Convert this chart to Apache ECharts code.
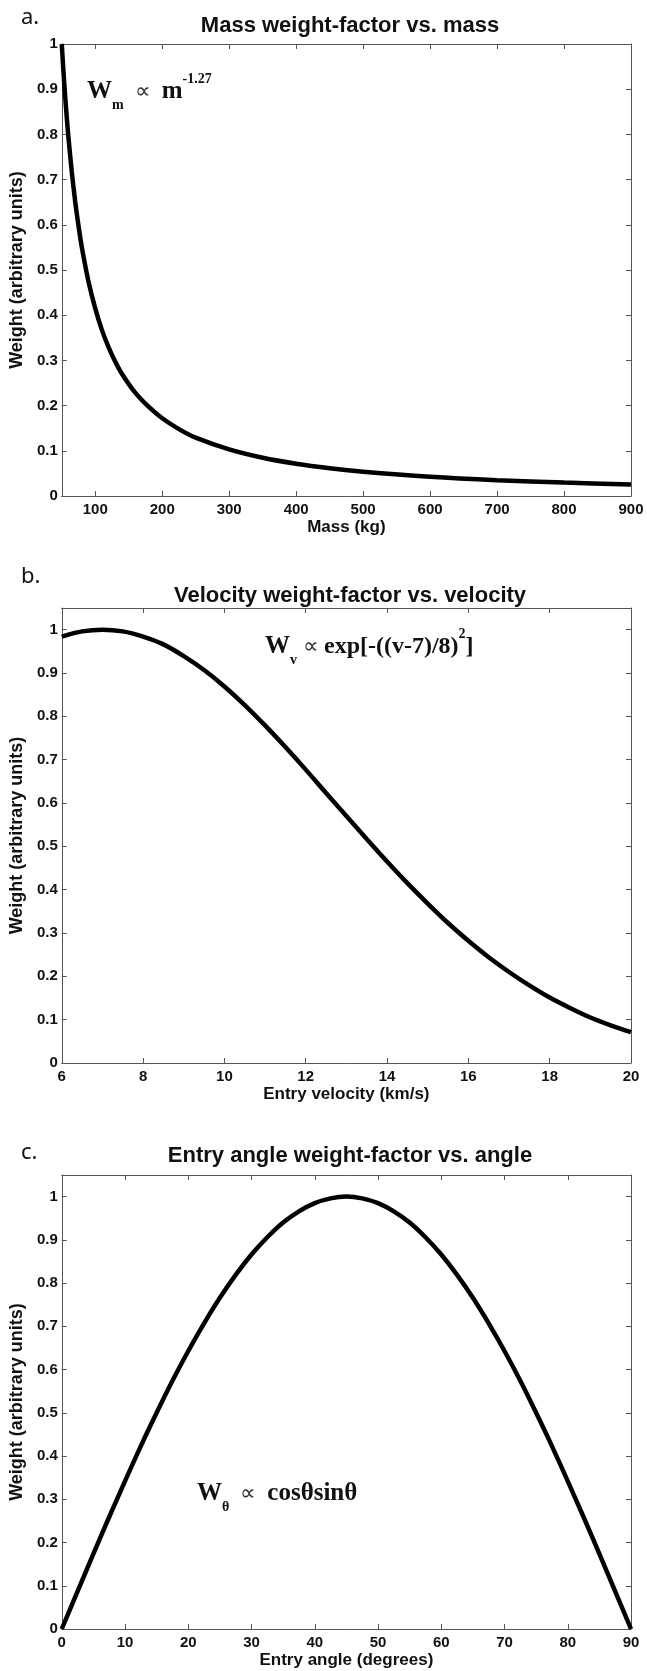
<!DOCTYPE html>
<html>
<head>
<meta charset="utf-8">
<script src="https://cdn.jsdelivr.net/npm/echarts@6/dist/echarts.min.js"></script>
<style>
  html, body { margin: 0; padding: 0; background: #fff; }
  #main { width: 647px; height: 1671px; }
</style>
</head>
<body>
<div id="main"></div>
<script>
// a. mass weight factor
var massKg = [50, 52.5, 55, 57.5, 60, 65, 70, 75, 80, 90, 100, 110, 120, 130, 140, 160, 180, 200, 225, 250, 300, 350, 400, 450, 500, 600, 700, 800, 900]
var massWeight = [1, 0.94, 0.886, 0.837, 0.793, 0.717, 0.652, 0.598, 0.55, 0.474, 0.415, 0.367, 0.329, 0.297, 0.27, 0.228, 0.197, 0.172, 0.148, 0.129, 0.103, 0.0845, 0.0713, 0.0614, 0.0537, 0.0426, 0.035, 0.0296, 0.0255]
var massTicks = [100, 200, 300, 400, 500, 600, 700, 800, 900]

// b. velocity weight factor
var velocity = [6, 6.5, 7, 7.5, 8, 8.5, 9, 9.5, 10, 10.5, 11, 11.5, 12, 12.5, 13, 13.5, 14, 14.5, 15, 15.5, 16, 16.5, 17, 17.5, 18, 18.5, 19, 19.5, 20]
var velocityWeight = [0.984, 0.996, 1, 0.996, 0.984, 0.966, 0.939, 0.907, 0.869, 0.826, 0.779, 0.729, 0.677, 0.623, 0.57, 0.517, 0.465, 0.415, 0.368, 0.323, 0.282, 0.244, 0.21, 0.179, 0.151, 0.127, 0.105, 0.087, 0.071]
var velocityTicks = [6, 8, 10, 12, 14, 16, 18, 20]

// c. entry angle weight factor
var angleDeg = [0, 2.5, 5, 7.5, 10, 12.5, 15, 17.5, 20, 22.5, 25, 27.5, 30, 32.5, 35, 37.5, 40, 42.5, 45,
  47.5, 50, 52.5, 55, 57.5, 60, 62.5, 65, 67.5, 70, 72.5, 75, 77.5, 80, 82.5, 85, 87.5, 90]
var angleWeight = [0, 0.087, 0.174, 0.259, 0.342, 0.423, 0.5, 0.574, 0.643, 0.707, 0.766, 0.819, 0.866, 0.906, 0.94, 0.966, 0.985, 0.996, 1,
  0.996, 0.985, 0.966, 0.94, 0.906, 0.866, 0.819, 0.766, 0.707, 0.643, 0.574, 0.5, 0.423, 0.342, 0.259, 0.174, 0.087, 0]
var angleTicks = [0, 10, 20, 30, 40, 50, 60, 70, 80, 90]

var weightTicks = [0, 0.1, 0.2, 0.3, 0.4, 0.5, 0.6, 0.7, 0.8, 0.9, 1]

var chart = echarts.init(document.getElementById('main'), null, { renderer: 'canvas' })

var sans = 'Liberation Sans, Arial, sans-serif'
var serif = 'Liberation Serif, Times New Roman, serif'
var axisColor = '#555'
var textColor = '#111'

var grids = [
  { left: 59, width: 572, top: 44, height: 452 },
  { left: 59, width: 572, top: 608, height: 455 },
  { left: 59, width: 572, top: 1175, height: 454 }
]

function pairs (xs, ys) {
  return xs.map(function (x, i) { return [x, ys[i]] })
}

function boxLine () {
  return { show: true, onZero: false, lineStyle: { color: axisColor, width: 1 } }
}

function xAxes (gi, min, max, ticks, name) {
  var base = {
    type: 'value',
    gridIndex: gi,
    min: min,
    max: max,
    splitLine: { show: false },
    axisLine: boxLine(),
    axisTick: { show: true, inside: true, length: 5, customValues: ticks, lineStyle: { color: axisColor } }
  }
  var bottom = Object.assign({}, base, {
    position: 'bottom',
    name: name,
    nameLocation: 'middle',
    nameGap: 23,
    nameTextStyle: { fontFamily: sans, fontWeight: 'bold', fontSize: 17, color: textColor },
    axisLabel: { customValues: ticks, margin: 6, fontFamily: sans, fontWeight: 'bold', fontSize: 15, color: textColor }
  })
  var top = Object.assign({}, base, {
    position: 'top',
    axisLabel: { show: false }
  })
  return [bottom, top]
}

function yAxes (gi, max) {
  var base = {
    type: 'value',
    gridIndex: gi,
    min: 0,
    max: max,
    splitLine: { show: false },
    axisLine: boxLine(),
    axisTick: { show: true, inside: true, length: 5, customValues: weightTicks, lineStyle: { color: axisColor } }
  }
  var left = Object.assign({}, base, {
    position: 'left',
    name: 'Weight (arbitrary units)',
    nameLocation: 'middle',
    nameGap: 32,
    nameTextStyle: { fontFamily: sans, fontWeight: 'bold', fontSize: 18, color: textColor },
    axisLabel: { customValues: weightTicks, margin: 4, fontFamily: sans, fontWeight: 'bold', fontSize: 15, color: textColor }
  })
  var right = Object.assign({}, base, {
    position: 'right',
    axisLabel: { show: false }
  })
  return [left, right]
}

function curve (gi, data) {
  return {
    type: 'line',
    xAxisIndex: gi * 2,
    yAxisIndex: gi * 2,
    data: data,
    smooth: 0.3,
    showSymbol: false,
    lineStyle: { color: '#000', width: 4.5 },
    silent: true
  }
}

var titleStyle = { fontFamily: sans, fontWeight: 'bold', fontSize: 22, color: textColor }
var panelStyle = { fontFamily: 'Noto Sans, sans-serif', fontWeight: 'normal', fontSize: 22, color: textColor }

var richBase = {
  W: { fontFamily: serif, fontWeight: 'bold', fontSize: 25, lineHeight: 40, fill: textColor },
  ws: { fontFamily: serif, fontWeight: 'bold', fontSize: 14, lineHeight: 14, padding: [26, 0, 0, 0], fill: textColor },
  sp: { fontFamily: serif, fontWeight: 'bold', fontSize: 14, lineHeight: 14, padding: [0, 0, 26, 0], fill: textColor },
  op: { fontFamily: serif, fontSize: 22, lineHeight: 40, fill: '#333' },
  n: { fontFamily: serif, fontWeight: 'bold', fontSize: 24, lineHeight: 40, fill: textColor }
}

var option = {
  backgroundColor: '#fff',
  animation: false,
  title: [
    { text: 'Mass weight-factor vs. mass', left: 345, top: 10, textAlign: 'center', textStyle: titleStyle },
    { text: 'Velocity weight-factor vs. velocity', left: 345, top: 580, textAlign: 'center', textStyle: titleStyle },
    { text: 'Entry angle weight-factor vs. angle', left: 345, top: 1140, textAlign: 'center', textStyle: titleStyle },
    { text: 'a.', left: 16, top: 2, textStyle: panelStyle },
    { text: 'b.', left: 16, top: 561, textStyle: panelStyle },
    { text: 'c.', left: 16, top: 1137, textStyle: panelStyle }
  ],
  grid: grids,
  xAxis: []
    .concat(xAxes(0, 50, 900, massTicks, 'Mass (kg)'))
    .concat(xAxes(1, 6, 20, velocityTicks, 'Entry velocity (km/s)'))
    .concat(xAxes(2, 0, 90, angleTicks, 'Entry angle (degrees)')),
  yAxis: []
    .concat(yAxes(0, 1))
    .concat(yAxes(1, 1.05))
    .concat(yAxes(2, 1.05)),
  series: [
    curve(0, pairs(massKg, massWeight)),
    curve(1, pairs(velocity, velocityWeight)),
    curve(2, pairs(angleDeg, angleWeight))
  ],
  graphic: [
    {
      type: 'text', left: 87, top: 72,
      style: { text: '{W|W}{ws|m}{op|  ∝  }{W|m}{sp|-1.27}', rich: richBase }
    },
    {
      type: 'text', left: 265, top: 627,
      style: { text: '{W|W}{ws|v}{op| ∝ }{n|exp[-((v-7)/8)}{sp|2}{n|]}', rich: richBase }
    },
    {
      type: 'text', left: 197, top: 1474,
      style: { text: '{W|W}{ws|θ}{op|  ∝  }{W|cosθsinθ}', rich: richBase }
    }
  ]
}

chart.setOption(option)
</script>
</body>
</html>
